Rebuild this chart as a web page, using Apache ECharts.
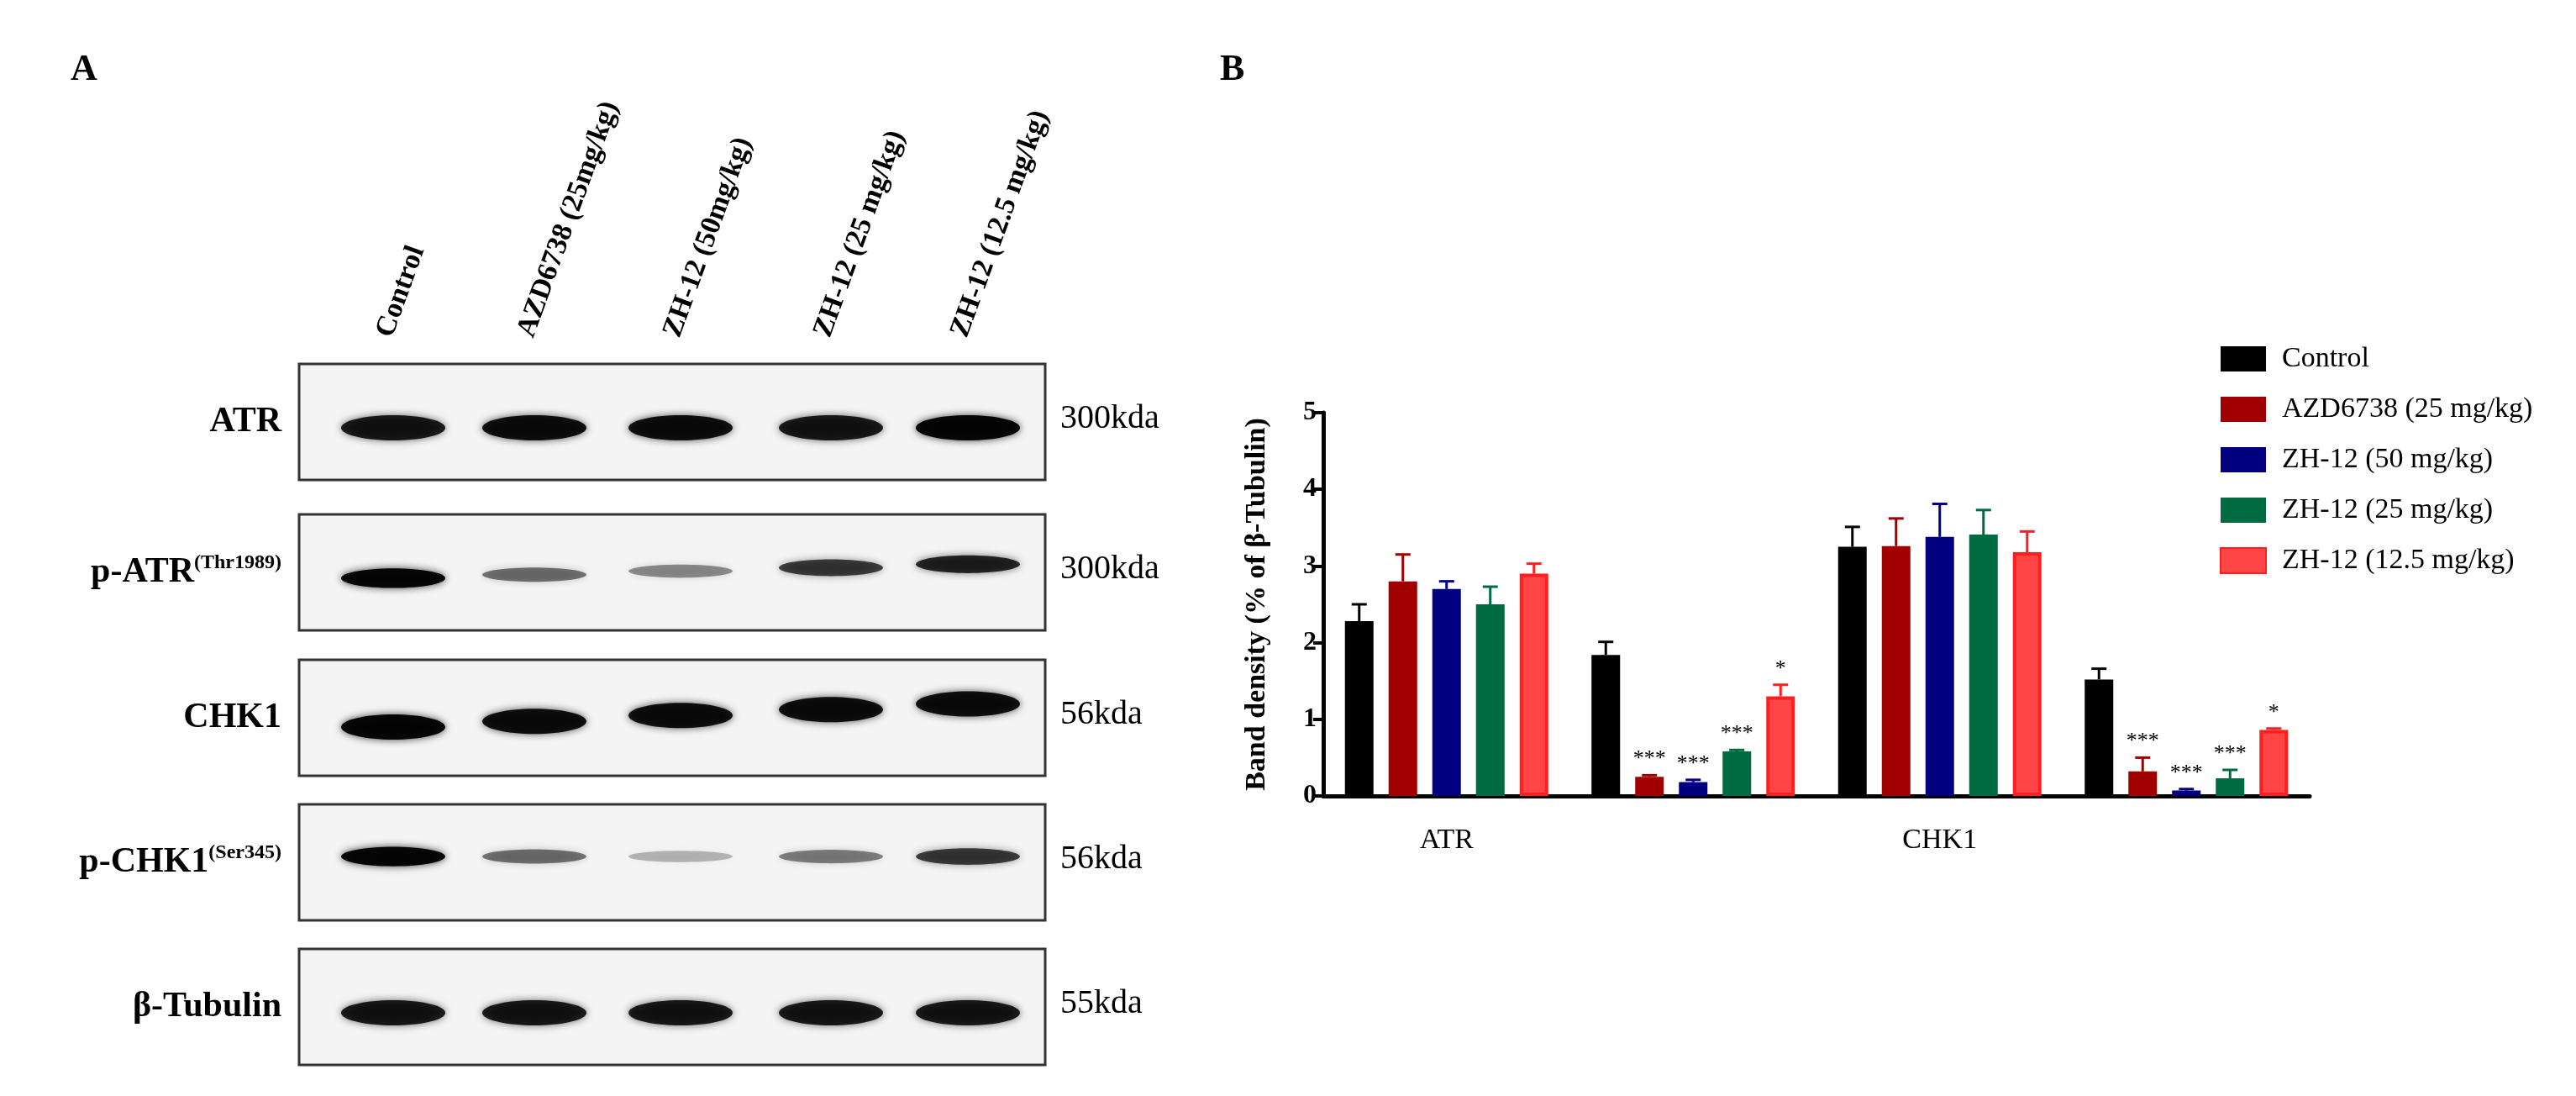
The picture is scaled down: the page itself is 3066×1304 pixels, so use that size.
<!DOCTYPE html>
<html><head><meta charset="utf-8">
<script src="https://cdn.jsdelivr.net/npm/echarts@6/dist/echarts.min.js"></script>
<style>html,body{margin:0;background:#fff}#c{width:3066px;height:1304px}</style>
</head><body><div id="c"></div>
<script>
// ---------- Data ----------
const categories = ['ATR', 'p-ATR{sup|Thr1989}', 'CHK1', 'p-CHK1{sup|Ser345}'];
const seriesNames = ['Control', 'AZD6738 (25 mg/kg)', 'ZH-12 (50 mg/kg)', 'ZH-12 (25 mg/kg)', 'ZH-12 (12.5 mg/kg)'];
const control   = [2.28, 1.84, 3.25, 1.52];
const azd       = [2.80, 0.25, 3.26, 0.32];
const zh50      = [2.70, 0.18, 3.38, 0.07];
const zh25      = [2.50, 0.58, 3.41, 0.23];
const zh125     = [2.90, 1.30, 3.18, 0.86];
const controlErr = [0.22, 0.17, 0.26, 0.14];
const azdErr     = [0.35, 0.02, 0.36, 0.18];
const zh50Err    = [0.10, 0.03, 0.43, 0.02];
const zh25Err    = [0.23, 0.02, 0.32, 0.11];
const zh125Err   = [0.13, 0.15, 0.27, 0.02];
const controlSig = ['', '', '', ''];
const azdSig     = ['', '***', '', '***'];
const zh50Sig    = ['', '***', '', '***'];
const zh25Sig    = ['', '***', '', '***'];
const zh125Sig   = ['', '*', '', '*'];
const yTicks = [0, 1, 2, 3, 4, 5];
// Western blot panel
const laneLabels = ['Control', 'AZD6738 (25mg/kg)', 'ZH-12 (50mg/kg)', 'ZH-12 (25 mg/kg)', 'ZH-12 (12.5 mg/kg)'];
const blotRows = ['ATR', 'p-ATR{sup|(Thr1989)}', 'CHK1', 'p-CHK1{sup|(Ser345)}', 'β-Tubulin'];
const blotKda = ['300kda', '300kda', '56kda', '56kda', '55kda'];
const bandATR     = [0.85, 0.9, 0.9, 0.85, 0.95];
const bandPATR    = [0.95, 0.5, 0.4, 0.7, 0.8];
const bandCHK1    = [0.95, 0.9, 0.9, 0.9, 0.9];
const bandPCHK1   = [0.95, 0.5, 0.25, 0.45, 0.7];
const bandTubulin = [0.85, 0.85, 0.85, 0.85, 0.85];

const values = [control, azd, zh50, zh25, zh125];
const errs = [controlErr, azdErr, zh50Err, zh25Err, zh125Err];
const sigs = [controlSig, azdSig, zh50Sig, zh25Sig, zh125Sig];
const bands = [bandATR, bandPATR, bandCHK1, bandPCHK1, bandTubulin];
const colors = ['#000000', '#a00000', '#000080', '#006b40', '#ff4545'];
const borders = ['#000000', '#a00000', '#000080', '#006b40', '#ff1f1f'];

const serif = 'Liberation Serif';
const BW = 34, PITCH = 52;

// ---------- Blot graphics ----------
const graphic = [];
graphic.push({type:'text', left:84, top:62, style:{text:'A', font:'bold 44px "Liberation Serif"', fill:'#000'}});
graphic.push({type:'text', left:1452, top:62, style:{text:'B', font:'bold 44px "Liberation Serif"', fill:'#000'}});
const laneX = [463, 631, 805, 984, 1147];
laneLabels.forEach((t, i) => {
  graphic.push({type:'text', x: laneX[i] - 5, y: 400, rotation: 70 * Math.PI / 180,
    style:{text:t, font:'bold 34px "Liberation Serif"', fill:'#000', align:'left', verticalAlign:'middle'}});
});
const boxTop = [433, 612, 785, 957, 1129];
const boxH = 138;
const bandYFrac = [0.55, 0.55, 0.58, 0.45, 0.55];
blotRows.forEach((r, k) => {
  graphic.push({type:'rect', shape:{x:356, y:boxTop[k], width:888, height:boxH},
    style:{fill:'#f4f4f4', stroke:'#333', lineWidth:3}});
  bands[k].forEach((a, i) => {
    let yOff = bandYFrac[k];
    if (k === 2) yOff -= i * 0.05;
    if (k === 1) yOff -= i * 0.03;
    const h = (k === 1 || k === 3) ? 10 + 14 * a : 30;
    graphic.push({type:'ellipse', shape:{cx: laneX[i] + 5, cy: boxTop[k] + boxH * yOff, rx: 62, ry: h / 2},
      style:{fill:'rgba(0,0,0,' + a + ')', shadowBlur: 10, shadowColor:'rgba(0,0,0,' + a * 0.8 + ')'}});
  });
  graphic.push({type:'text', x:335, y: boxTop[k] + boxH / 2, style:{text:r, align:'right', verticalAlign:'middle',
    rich:{sup:{font:'bold 24px "Liberation Serif"', verticalAlign:'top', padding:[0,0,22,0]}},
    font:'bold 42px "Liberation Serif"', fill:'#000'}});
  graphic.push({type:'text', x:1262, y: boxTop[k] + boxH / 2 - 4, style:{text:blotKda[k], align:'left', verticalAlign:'middle',
    font:'40px "Liberation Serif"', fill:'#000'}});
});

// ---------- Series ----------
const series = [];
seriesNames.forEach((n, i) => {
  series.push({type:'bar', name:n, data:values[i], barWidth:BW, barGap:((PITCH - BW) / BW * 100) + '%',
    itemStyle:{color:colors[i], borderColor:borders[i], borderWidth: i === 4 ? 4 : 0}});
});
seriesNames.forEach((n, i) => {
  series.push({type:'custom', name:n + ' err', silent:true, z:5,
    data: values[i].map((v, c) => [c, v, errs[i][c], sigs[i][c]]),
    renderItem: (params, api) => {
      const c = api.value(0), v = api.value(1), e = api.value(2);
      const s = values[i] && sigs[i][c];
      const p0 = api.coord([c, v]), p1 = api.coord([c, v + e]);
      const x = p0[0] + (i - 2) * PITCH;
      const col = i === 4 ? '#ff1f1f' : colors[i];
      const ch = [
        {type:'line', shape:{x1:x, y1:p0[1], x2:x, y2:p1[1]}, style:{stroke:col, lineWidth:3}},
        {type:'line', shape:{x1:x - 9, y1:p1[1], x2:x + 9, y2:p1[1]}, style:{stroke:col, lineWidth:3}}
      ];
      if (s) ch.push({type:'text', x:x, y:p1[1] - 6, style:{text:s, align:'center', verticalAlign:'bottom',
        font:'26px "Liberation Serif"', fill:'#000'}});
      return {type:'group', children:ch};
    }});
});

const chart = echarts.init(document.getElementById('c'));
chart.setOption({
  backgroundColor:'#fff',
  animation:false,
  graphic: graphic,
  grid:{left:1575, right:317, top:491, bottom:357, containLabel:false},
  legend:{data:seriesNames, orient:'vertical', left:2637, top:405, itemWidth:54, itemHeight:30, itemGap:26,
    icon:'rect', textStyle:{fontFamily:serif, fontSize:34, color:'#000', padding:[0,0,0,14]}},
  xAxis:{type:'category', data:categories,
    axisLine:{lineStyle:{color:'#000', width:5}},
    axisTick:{alignWithLabel:true, length:16, lineStyle:{color:'#000', width:4}},
    axisLabel:{margin:36, fontFamily:serif, fontSize:34, color:'#000',
      rich:{sup:{fontFamily:serif, fontSize:26, color:'#000', verticalAlign:'top', padding:[0,0,28,0]}}}},
  yAxis:{type:'value', min:0, max:5, interval:1,
    name:'Band density (% of β-Tubulin)', nameLocation:'middle', nameGap:62,
    nameTextStyle:{fontFamily:serif, fontSize:34, fontWeight:'bold', color:'#000'},
    splitLine:{show:false},
    axisLine:{show:true, lineStyle:{color:'#000', width:5}},
    axisTick:{show:true, length:12, lineStyle:{color:'#000', width:4}},
    axisLabel:{fontFamily:serif, fontSize:32, fontWeight:'bold', color:'#000', margin:8}},
  series: series
});
</script></body></html>
